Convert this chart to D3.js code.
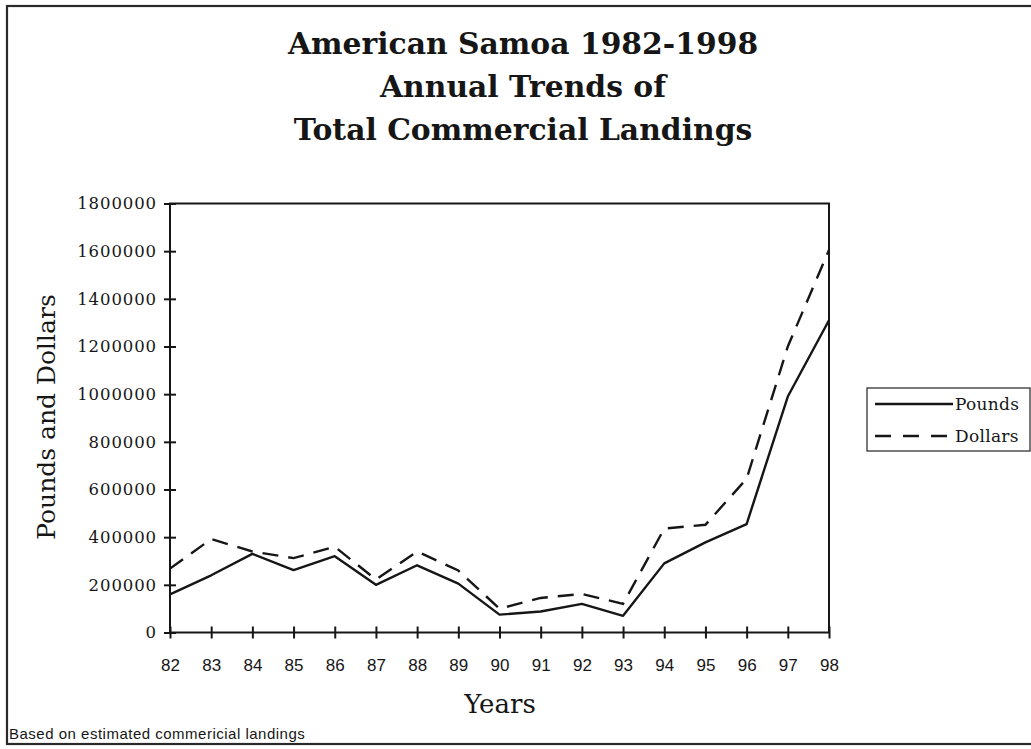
<!DOCTYPE html>
<html>
<head>
<meta charset="utf-8">
<script src="https://cdn.jsdelivr.net/npm/d3@7"></script>
<style>
  html, body { margin: 0; padding: 0; background: #fff; }
  svg { display: block; }
</style>
</head>
<body>
<svg id="chart" width="1031" height="749"></svg>
<script>
// ---- data ----
const years = [82, 83, 84, 85, 86, 87, 88, 89, 90, 91, 92, 93, 94, 95, 96, 97, 98];
const pounds = [160000, 240000, 330000, 262000, 320000, 200000, 282000, 205000, 75000, 88000, 120000, 70000, 290000, 378000, 455000, 990000, 1310000];
const dollars = [268000, 392000, 340000, 312000, 360000, 222000, 340000, 260000, 100000, 145000, 162000, 120000, 436000, 452000, 645000, 1200000, 1605000];
const yTicks = [0, 200000, 400000, 600000, 800000, 1000000, 1200000, 1400000, 1600000, 1800000];
const titleLines = ["American Samoa 1982-1998", "Annual Trends of", "Total Commercial Landings"];
const seriesNames = ["Pounds", "Dollars"];

const svg = d3.select("#chart");
const ink = "#161616";

// outer frame
svg.append("rect")
  .attr("x", 7).attr("y", 6).attr("width", 1040).attr("height", 738)
  .attr("fill", "none").attr("stroke", "#2a2a2a").attr("stroke-width", 2.2);

// title
svg.append("g").selectAll("text").data(titleLines).join("text")
  .attr("x", 523).attr("y", (d, i) => 54 + i * 43)
  .attr("text-anchor", "middle")
  .attr("font-family", "'DejaVu Serif', serif")
  .attr("font-weight", "bold")
  .attr("font-size", 29.8)
  .attr("fill", ink)
  .text(d => d);

// scales
const x = d3.scaleLinear().domain([82, 98]).range([170, 829]);
const y = d3.scaleLinear().domain([0, 1800000]).range([632.5, 203.5]);

// plot frame
svg.append("rect")
  .attr("x", x(82)).attr("y", y(1800000))
  .attr("width", x(98) - x(82)).attr("height", y(0) - y(1800000))
  .attr("fill", "none").attr("stroke", ink).attr("stroke-width", 2);

// y axis
const yAxis = svg.append("g")
  .attr("transform", `translate(${x(82) + 6},0)`)
  .call(d3.axisLeft(y).tickValues(yTicks).tickSize(12).tickPadding(7).tickFormat(d3.format("d")));
yAxis.select(".domain").remove();
yAxis.selectAll(".tick line").attr("stroke", ink).attr("stroke-width", 2);
yAxis.selectAll(".tick text")
  .attr("font-family", "'DejaVu Serif', serif")
  .attr("font-size", 16.5)
  .attr("letter-spacing", 0.9)
  .attr("fill", ink);

// x axis
const xAxis = svg.append("g")
  .attr("transform", `translate(0,${y(0) - 6})`)
  .call(d3.axisBottom(x).tickValues(years).tickSize(12).tickPadding(20).tickFormat(d3.format("d")));
xAxis.select(".domain").remove();
xAxis.selectAll(".tick line").attr("stroke", ink).attr("stroke-width", 2);
xAxis.selectAll(".tick text")
  .attr("font-family", "'Liberation Sans', Arial, sans-serif")
  .attr("font-size", 17)
  .attr("fill", ink);

// axis titles
svg.append("text")
  .attr("x", 500).attr("y", 713)
  .attr("text-anchor", "middle")
  .attr("font-family", "'DejaVu Serif', serif")
  .attr("font-size", 26)
  .attr("fill", ink)
  .text("Years");

svg.append("text")
  .attr("transform", "translate(55,417) rotate(-90)")
  .attr("text-anchor", "middle")
  .attr("font-family", "'DejaVu Serif', serif")
  .attr("font-size", 25)
  .attr("fill", ink)
  .text("Pounds and Dollars");

// lines
const line = d3.line().x((d, i) => x(years[i])).y(d => y(d));
svg.append("path").datum(pounds)
  .attr("d", line).attr("fill", "none")
  .attr("stroke", ink).attr("stroke-width", 2.4).attr("stroke-linejoin", "round");
svg.append("path").datum(dollars)
  .attr("d", line).attr("fill", "none")
  .attr("stroke", ink).attr("stroke-width", 2.4).attr("stroke-dasharray", "16,10");

// legend
const lg = svg.append("g");
lg.append("rect").attr("x", 867).attr("y", 388).attr("width", 163).attr("height", 63)
  .attr("fill", "#fff").attr("stroke", "#333").attr("stroke-width", 1.3);
const legendDash = ["none", "16,12"];
seriesNames.forEach((name, i) => {
  const ly = 404 + i * 32;
  lg.append("line").attr("x1", 875).attr("x2", 953).attr("y1", ly).attr("y2", ly)
    .attr("stroke", ink).attr("stroke-width", 2.4).attr("stroke-dasharray", legendDash[i]);
  lg.append("text").attr("x", 955).attr("y", ly + 6)
    .attr("font-family", "'DejaVu Serif', serif")
    .attr("font-size", 17)
    .attr("letter-spacing", 0.3)
    .attr("fill", ink)
    .text(name);
});

// footnote
svg.append("text")
  .attr("x", 9).attr("y", 739)
  .attr("font-family", "'Liberation Sans', Arial, sans-serif")
  .attr("font-size", 15)
  .attr("letter-spacing", 0.5)
  .attr("fill", ink)
  .text("Based on estimated commericial landings");
</script>
</body>
</html>
